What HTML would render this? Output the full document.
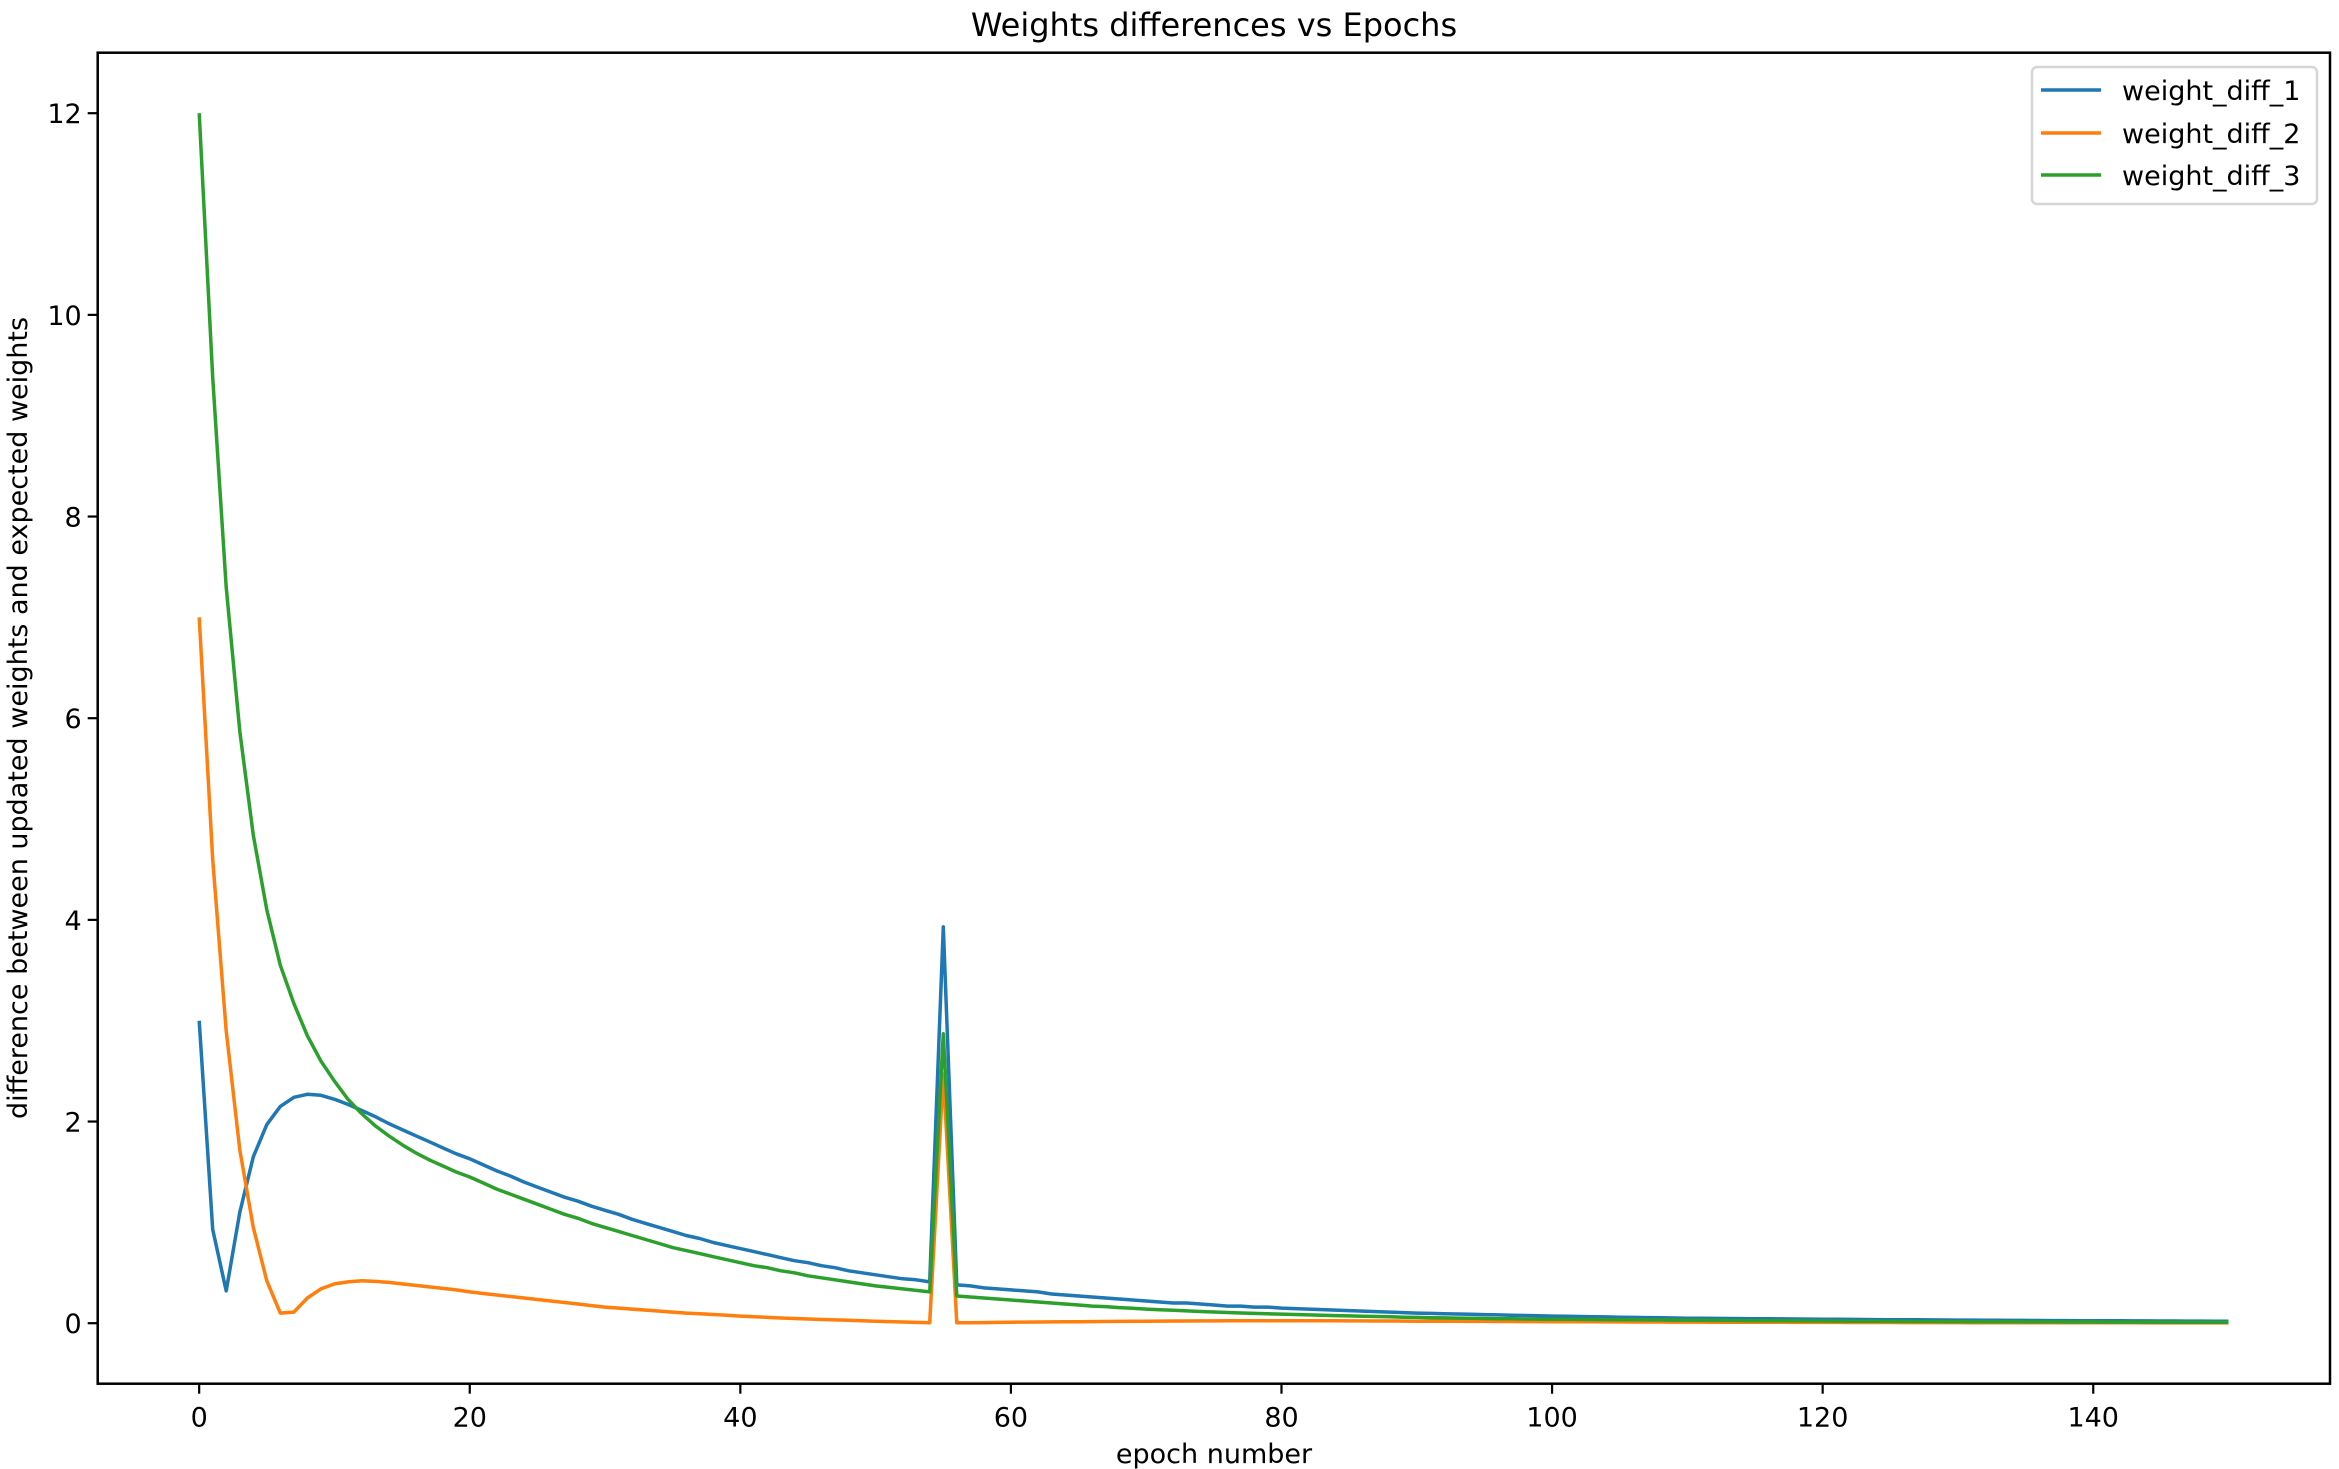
<!DOCTYPE html>
<html><head><meta charset="utf-8"><style>
html,body{margin:0;padding:0;background:#fff;}
svg{display:block;font-family:"DejaVu Sans","Liberation Sans",sans-serif;}
</style></head><body>
<svg id="chart" width="2339" height="1469" viewBox="0 0 2339 1469" xmlns="http://www.w3.org/2000/svg">
<rect x="0" y="0" width="2339" height="1469" fill="#fff"/>
<text x="1214" y="36" font-size="32" text-anchor="middle">Weights differences vs Epochs</text>
<g id="plot"></g>
<rect x="97.7" y="52.7" width="2232.3" height="1331" fill="none" stroke="#000" stroke-width="2.5"/>
<text x="1214" y="1463" font-size="27" text-anchor="middle">epoch number</text>
<text transform="translate(27,718) rotate(-90)" font-size="27" text-anchor="middle">difference between updated weights and expected weights</text>
<g>
<rect x="2032" y="67" width="285" height="137" rx="5" fill="#fff" fill-opacity="0.8" stroke="#d6d6d6" stroke-width="2.5"/>
<line x1="2041" y1="90" x2="2101" y2="90" stroke="#1f77b4" stroke-width="3.5"/>
<text x="2122" y="100" font-size="27">weight_diff_1</text>
<line x1="2041" y1="133" x2="2101" y2="133" stroke="#ff7f0e" stroke-width="3.5"/>
<text x="2122" y="143" font-size="27">weight_diff_2</text>
<line x1="2041" y1="175" x2="2101" y2="175" stroke="#2ca02c" stroke-width="3.5"/>
<text x="2122" y="185" font-size="27">weight_diff_3</text>
</g>
</svg>
<script>
const xTicks = [0,20,40,60,80,100,120,140];
const yTicks = [0,2,4,6,8,10,12];
const series1 = [3.00,0.93,0.32,1.10,1.65,1.97,2.15,2.24,2.27,2.26,2.22,
2.17,2.11,2.05,1.98,1.92,1.86,1.80,1.74,1.68,1.63,
1.57,1.51,1.46,1.40,1.35,1.30,1.25,1.21,1.16,1.12,
1.08,1.03,0.99,0.95,0.91,0.87,0.84,0.80,0.77,0.74,
0.71,0.68,0.65,0.62,0.60,0.57,0.55,0.52,0.50,0.48,
0.46,0.44,0.43,0.41,3.93,
0.38,0.37,0.35,0.34,0.33,
0.32,0.31,0.29,0.28,0.27,0.26,0.25,0.24,0.23,0.22,
0.21,0.20,0.20,0.19,0.18,0.17,0.17,0.16,0.16,0.15,
0.145,0.14,0.135,0.13,0.125,0.12,0.115,0.11,0.105,0.10,
0.097,0.094,0.091,0.088,0.085,0.082,0.079,0.076,0.073,0.07,
0.068,0.066,0.064,0.062,0.06,0.058,0.056,0.054,0.052,0.05,0.049,0.048,0.047,0.046,0.045,0.044,0.043,0.042,0.041,0.04,
0.039,0.038,0.037,0.036,0.035,0.035,0.034,0.033,0.032,0.031,0.031,0.030,0.029,0.028,0.028,0.027,0.026,0.026,0.025,0.025,0.024,0.024,0.023,0.023,0.022,0.022,0.021,0.021,0.020,0.020];
const series2 = [7.0,4.6,2.9,1.72,0.95,0.42,0.10,0.11,0.25,0.34,0.39,0.41,0.42,
0.415,0.405,0.39,0.375,0.36,0.345,0.33,0.31,
0.295,0.28,0.265,0.25,0.235,0.22,0.205,0.19,0.175,0.16,
0.15,0.14,0.13,0.12,0.11,0.10,0.093,0.086,0.078,0.07,
0.064,0.058,0.052,0.047,0.042,0.037,0.033,0.029,0.025,0.02,0.016,0.012,0.008,0.005,
2.47,
0.004,0.005,0.006,0.008,0.01,0.011,0.012,0.013,0.014,0.015,0.016,0.017,0.018,0.019,0.02,
0.021,0.022,0.022,0.023,0.023,0.024,0.024,0.025,0.025,0.025,0.025,0.024,0.024,0.024,0.023,0.023,0.022,0.022,0.021,0.02,
0.02,0.019,0.019,0.018,0.018,0.017,0.017,0.016,0.016,0.015,0.015,0.014,0.014,0.013,0.013,0.012,0.012,0.012,0.011,0.011,
0.011,0.010,0.010,0.010,0.009,0.009,0.009,0.008,0.008,0.008,0.008,0.007,0.007,0.007,0.007,0.006,0.006,0.006,0.006,0.006,
0.005,0.005,0.005,0.005,0.005,0.005,0.004,0.004,0.004,0.004,0.004,0.004,0.004,0.003,0.003,0.003,0.003,0.003,0.003,0.003];
const series3 = [12.0,9.38,7.30,5.87,4.84,4.10,3.55,3.17,2.85,2.60,2.40,
2.22,2.08,1.96,1.86,1.77,1.69,1.62,1.56,1.50,1.45,
1.39,1.33,1.28,1.23,1.18,1.13,1.08,1.04,0.99,0.95,
0.91,0.87,0.83,0.79,0.75,0.72,0.69,0.66,0.63,0.60,
0.57,0.55,0.52,0.50,0.47,0.45,0.43,0.41,0.39,0.37,
0.355,0.34,0.325,0.31,2.87,
0.27,0.26,0.25,0.24,0.23,
0.22,0.21,0.20,0.19,0.18,0.17,0.165,0.155,0.148,0.14,
0.134,0.128,0.122,0.116,0.111,0.106,0.101,0.097,0.093,0.09,
0.086,0.082,0.079,0.075,0.072,0.069,0.066,0.063,0.060,0.058,0.055,0.053,0.051,0.049,0.047,0.045,0.044,0.042,0.041,0.04,
0.039,0.038,0.037,0.036,0.035,0.034,0.033,0.032,0.031,0.030,0.029,0.028,0.027,0.026,0.025,0.025,0.024,0.023,0.022,0.022,
0.021,0.020,0.020,0.019,0.018,0.018,0.017,0.017,0.016,0.016,0.015,0.015,0.014,0.014,0.013,0.013,0.013,0.012,0.012,0.012,
0.011,0.011,0.011,0.011,0.010,0.010,0.010,0.010,0.010,0.010];

const L=97.7,R=2330,T=52.7,B=1383.7;
const xMin=-7.5,xMax=157.5,yMin=-0.6,yMax=12.6;
function sx(v){return L+(v-xMin)/(xMax-xMin)*(R-L);}
function sy(v){return B-(v-yMin)/(yMax-yMin)*(B-T);}
const NS='http://www.w3.org/2000/svg';
const plot=document.getElementById('plot');
function mk(tag,attrs){const e=document.createElementNS(NS,tag);for(const k in attrs)e.setAttribute(k,attrs[k]);return e;}
xTicks.forEach(t=>{
  const g=mk('line',{x1:sx(t),x2:sx(t),y1:B,y2:B+10,stroke:'#000','stroke-width':2.2});
  
  
  plot.appendChild(g);
  const tx=mk('text',{x:sx(t),y:B+43,'font-size':27,'text-anchor':'middle'});
  tx.textContent=t;
  
  
  plot.appendChild(tx);
});
yTicks.forEach(t=>{
  const g=mk('line',{x1:L-10,x2:L,y1:sy(t),y2:sy(t),stroke:'#000','stroke-width':2.2});
  
  
  plot.appendChild(g);
  const tx=mk('text',{x:L-16,y:sy(t)+10,'font-size':27,'text-anchor':'end'});
  tx.textContent=t;
  
  
  plot.appendChild(tx);
});
const cols=['#1f77b4','#ff7f0e','#2ca02c'];
[series1,series2,series3].forEach((s,i)=>{
  const pts=s.map((v,j)=>sx(j).toFixed(1)+','+sy(v).toFixed(1)).join(' ');
  const pl=mk('polyline',{points:pts,fill:'none',stroke:cols[i],'stroke-width':3.5,'stroke-linejoin':'round'});
  
  
  plot.appendChild(pl);
});
</script>
</body></html>
